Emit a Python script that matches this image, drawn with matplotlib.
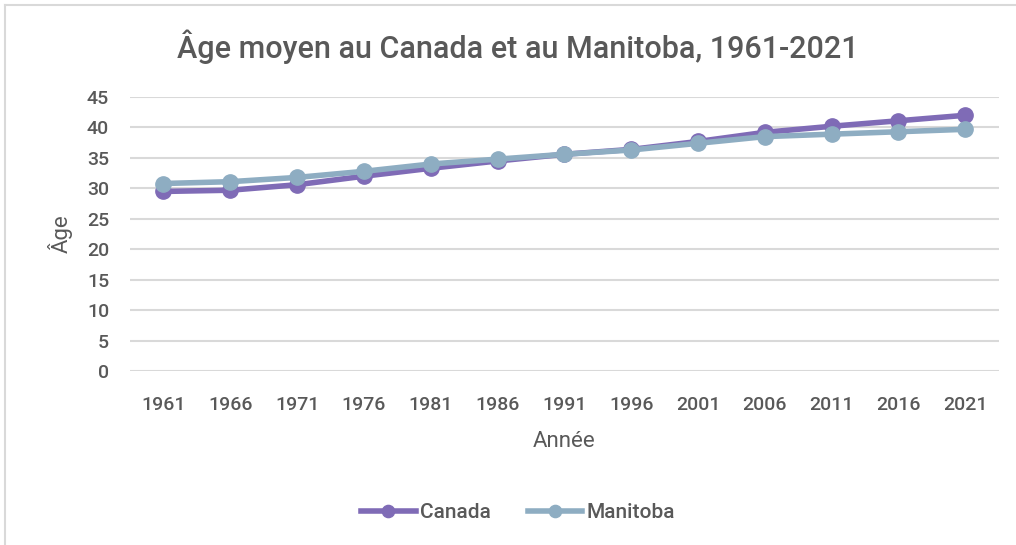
import matplotlib.pyplot as plt
from matplotlib.lines import Line2D

plt.rcParams['font.family'] = ['Roboto', 'DejaVu Sans']
plt.rcParams['font.weight'] = 'medium'

# données
annees = ['1961', '1966', '1971', '1976', '1981', '1986', '1991',
          '1996', '2001', '2006', '2011', '2016', '2021']
canada = [29.5, 29.7, 30.6, 32.0, 33.3, 34.5, 35.6, 36.4, 37.7, 39.2, 40.2, 41.1, 42.0]
manitoba = [30.8, 31.1, 31.8, 32.8, 34.0, 34.8, 35.6, 36.3, 37.4, 38.5, 38.9, 39.3, 39.7]

couleur_can = '#7F6BB6'
couleur_man = '#8EADC2'
gris = '#595959'

fig = plt.figure(figsize=(10.16, 5.45), dpi=100)
ax = fig.add_axes([0.128, 0.319, 0.855, 0.503])

x = list(range(len(annees)))
ax.plot(x, canada, color=couleur_can, lw=4, marker='o', ms=11, label='Canada', zorder=3)
ax.plot(x, manitoba, color=couleur_man, lw=4, marker='o', ms=11, label='Manitoba', zorder=4)

ax.set_xlim(-0.5, len(annees) - 0.5)
ax.set_ylim(0, 45)
ax.set_yticks(range(0, 46, 5))
ax.set_xticks(x)
ax.set_xticklabels(annees)
ax.grid(axis='y', color='#D9D9D9', lw=1.5)
ax.set_axisbelow(True)
for s in ax.spines.values():
    s.set_visible(False)
ax.tick_params(axis='both', length=0, labelsize=14, colors=gris)
ax.tick_params(axis='y', pad=15)
ax.tick_params(axis='x', pad=18)

ax.set_xlabel('Année', fontsize=16, color=gris, labelpad=12)
ax.set_ylabel('Âge', fontsize=16, color=gris, labelpad=10)
fig.suptitle('Âge moyen au Canada et au Manitoba, 1961-2021', fontsize=22, color=gris,
             x=0.51, y=0.945, fontweight='medium')

fig.legend(loc='center', bbox_to_anchor=(0.51, 0.06), ncol=2, frameon=False,
           fontsize=15, labelcolor=gris, handlelength=2.6, handletextpad=0.2,
           columnspacing=1.8, markerscale=0.8)

# bordure du graphique
fig.add_artist(Line2D([0.005, 1], [0.99, 0.99], color='#D9D9D9', lw=1.5, transform=fig.transFigure))
fig.add_artist(Line2D([0.005, 0.005], [0, 0.99], color='#D9D9D9', lw=1.5, transform=fig.transFigure))

plt.savefig('out.png', dpi=100)
